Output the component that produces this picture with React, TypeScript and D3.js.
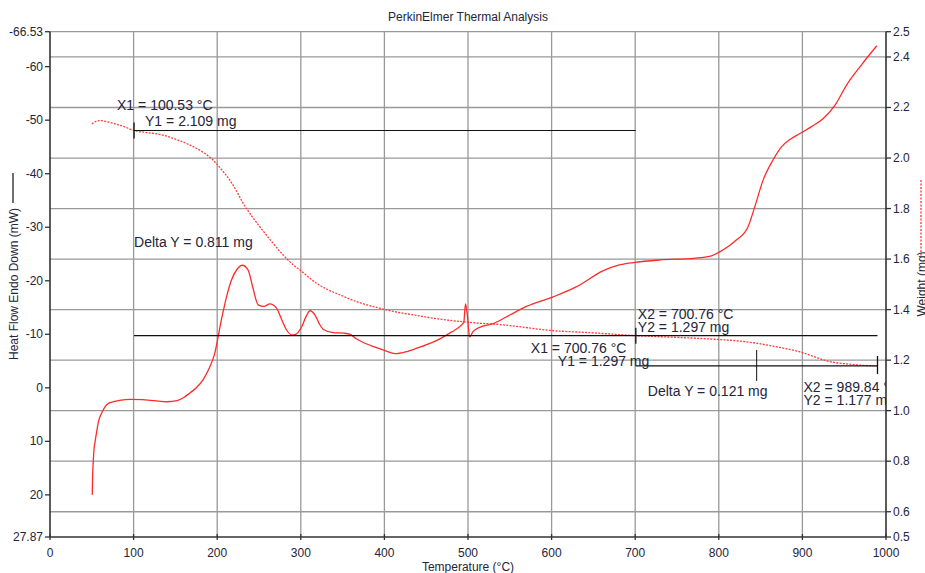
import React from "react";
import * as d3 from "d3";

// Heat flow (mW), solid trace on the left axis
const heatTemps = [
  50.5, 51, 51.5, 52.6, 54, 55.5, 58, 61.8, 66, 70, 76, 85, 96, 110, 125, 140, 152, 160, 167,
  175, 183, 190, 197, 205, 212, 217, 224, 230, 237, 243, 249, 256, 263, 271, 277, 283, 289,
  294, 301, 306, 311, 317, 322, 327, 339, 352, 359, 366, 373, 387, 400, 413, 425, 439, 453,
  467, 480, 492, 495, 497, 499, 502, 506, 514, 530, 550, 570, 602, 630, 662, 680, 698, 730,
  770, 790, 801, 812, 821, 835, 843, 853, 865, 875, 886, 897, 911, 925, 939, 953, 970, 989,
];
const heatFlow = [
  20, 16.5, 14.5, 11.6, 10, 8.5, 6.3, 4.7, 3.5, 2.9, 2.6, 2.3, 2.15, 2.2, 2.4, 2.6, 2.4, 1.8,
  1.0, 0, -1.5, -3.5, -6.4, -12.7, -17.5, -20.1, -22.2, -22.9, -22, -18.5, -15.5, -15.2,
  -15.7, -14.9, -12.8, -10.8, -9.9, -10, -11.4, -13.2, -14.4, -13.6, -12, -10.9, -10.3,
  -10.2, -10, -9.2, -8.6, -7.7, -7, -6.4, -6.7, -7.4, -8.2, -9.2, -10.4, -11.7, -12.3,
  -15.7, -13.9, -9.5, -10.5, -11.3, -12.0, -13.6, -15.2, -17, -18.9, -21.9, -22.9, -23.4,
  -23.9, -24.2, -24.6, -25.4, -26.5, -27.6, -30.1, -33.8, -38.8, -42.6, -45, -46.5, -47.5,
  -48.8, -50.3, -52.8, -56.6, -60.2, -63.9,
];

// Sample weight (mg), dotted trace on the right axis
const weightTemps = [
  50, 55, 60, 68, 76, 88, 100.5, 118, 135, 150, 167, 182, 195, 205, 215, 223, 231, 241, 251,
  265, 279, 290, 299, 319, 333, 347, 370, 395, 415, 435, 465, 494, 514, 534, 560, 594, 650,
  700.76, 750, 793, 820, 845, 870, 897, 913, 929, 940, 953, 970, 989.84,
];
const weight = [
  2.135, 2.145, 2.148, 2.144, 2.137, 2.125, 2.109, 2.1, 2.091, 2.075, 2.052, 2.025, 1.992,
  1.955, 1.913, 1.87, 1.821, 1.772, 1.728, 1.67, 1.616, 1.58, 1.557, 1.504, 1.478, 1.458,
  1.428, 1.405, 1.39, 1.379, 1.363, 1.352, 1.346, 1.342, 1.333, 1.319, 1.308, 1.297, 1.29,
  1.283, 1.277, 1.267, 1.252, 1.233, 1.215, 1.197, 1.19, 1.185, 1.18, 1.177,
];

// Axis ticks
const tempTicks = [0, 100, 200, 300, 400, 500, 600, 700, 800, 900, 1000];
const heatTicks = [-66.53, -60, -50, -40, -30, -20, -10, 0, 10, 20, 27.87];
const heatTickLabels = ["-66.53", "-60", "-50", "-40", "-30", "-20", "-10", "0", "10", "20", "27.87"];
const weightTicks = [0.5, 0.6, 0.8, 1.0, 1.2, 1.4, 1.6, 1.8, 2.0, 2.2, 2.4, 2.5];
const weightTickLabels = ["0.5", "0.6", "0.8", "1.0", "1.2", "1.4", "1.6", "1.8", "2.0", "2.2", "2.4", "2.5"];

// Cursor readings on the weight trace
const cursorTemps = [100.53, 700.76, 989.84];
const cursorWeights = [2.109, 1.297, 1.177];
const deltaLabels = ["Delta Y = 0.811 mg", "Delta Y = 0.121 mg"];

const W = 925;
const H = 573;
const FONT = "'Liberation Sans', Arial, sans-serif";
const TXT = "#24243a";

export default function App() {
  const x = d3.scaleLinear().domain([0, 1000]).range([50, 886]);
  const yL = d3.scaleLinear().domain([-66.53, 27.87]).range([31.7, 537]);
  const yR = d3.scaleLinear().domain([0.5, 2.5]).range([537, 31.7]);

  const heatLine = d3
    .line<number>()
    .x((_, i) => x(heatTemps[i]))
    .y((d) => yL(d))
    .curve(d3.curveMonotoneX);
  const weightLine = d3
    .line<number>()
    .x((_, i) => x(weightTemps[i]))
    .y((d) => yR(d))
    .curve(d3.curveMonotoneX);

  const [x0, x1] = x.range();
  const yTop = yR(2.5);
  const yBot = yR(0.5);

  const c = cursorTemps.map((t, i) => ({ px: x(t), py: yR(cursorWeights[i]) }));
  const fmtT = (t: number) => t.toFixed(2) + " °C";
  const fmtW = (w: number) => w.toFixed(3) + " mg";

  return (
    <svg
      width={W}
      height={H}
      style={{ position: "absolute", left: 0, top: 0, background: "#fff" }}
      fontFamily={FONT}
    >
      <defs>
        <clipPath id="plotClip">
          <rect x={x0} y={yTop} width={x1 - x0} height={yBot - yTop} />
        </clipPath>
      </defs>

      <text x={468} y={21} fontSize={12} textAnchor="middle" fill={TXT}>
        PerkinElmer Thermal Analysis
      </text>

      {/* grid */}
      {tempTicks.slice(1, -1).map((t) => (
        <line key={"vg" + t} x1={x(t)} x2={x(t)} y1={yTop} y2={yBot} stroke="#999" strokeWidth={1.3} />
      ))}
      {weightTicks.slice(1).map((w) => (
        <line key={"hg" + w} x1={x0} x2={x1} y1={yR(w)} y2={yR(w)} stroke="#999" strokeWidth={1.3} />
      ))}

      {/* axes */}
      <line x1={x0} x2={x0} y1={yTop} y2={yBot} stroke="#333" strokeWidth={1.6} />
      <line x1={x1} x2={x1} y1={yTop} y2={yBot} stroke="#333" strokeWidth={1.6} />
      <line x1={x0} x2={x1} y1={yBot} y2={yBot} stroke="#333" strokeWidth={1.6} />

      {heatTicks.map((v, i) => (
        <g key={"lt" + v}>
          <line x1={x0 - 5} x2={x0} y1={yL(v)} y2={yL(v)} stroke="#333" strokeWidth={1.3} />
          <text x={x0 - 7} y={yL(v) + 4} fontSize={12} textAnchor="end" fill={TXT}>
            {heatTickLabels[i]}
          </text>
        </g>
      ))}
      {weightTicks.map((w, i) => (
        <g key={"rt" + w}>
          <line x1={x1} x2={x1 + 5} y1={yR(w)} y2={yR(w)} stroke="#333" strokeWidth={1.3} />
          <text x={x1 + 7} y={yR(w) + 4} fontSize={12} fill={TXT}>
            {weightTickLabels[i]}
          </text>
        </g>
      ))}
      {tempTicks.map((t) => (
        <g key={"bt" + t}>
          <line x1={x(t)} x2={x(t)} y1={yBot - 3} y2={yBot + 3} stroke="#333" strokeWidth={1.3} />
          <text x={x(t)} y={557} fontSize={12} textAnchor="middle" fill={TXT}>
            {t}
          </text>
        </g>
      ))}

      <text x={468} y={571} fontSize={12} textAnchor="middle" fill={TXT}>
        Temperature (°C)
      </text>

      {/* left axis title with its line key */}
      <line x1={13} x2={13} y1={173} y2={203} stroke="#222" strokeWidth={1.3} />
      <text
        transform="translate(18,284) rotate(-90)"
        fontSize={12}
        textAnchor="middle"
        fill={TXT}
      >
        Heat Flow Endo Down (mW)
      </text>

      {/* right axis title with its dotted key */}
      <line x1={921} x2={921} y1={180} y2={256} stroke="#ff4040" strokeWidth={1.4} strokeDasharray="2,1.5" />
      <text
        transform="translate(926,284) rotate(-90)"
        fontSize={12}
        textAnchor="middle"
        fill={TXT}
      >
        Weight (mg)
      </text>

      <g clipPath="url(#plotClip)">
        {/* data traces */}
        <path d={weightLine(weight) || ""} fill="none" stroke="#ff3b3b" strokeWidth={1.3} strokeDasharray="2,1.3" />
        <path d={heatLine(heatFlow) || ""} fill="none" stroke="#ff2a2a" strokeWidth={1.3} />

        {/* cursors */}
        <line x1={c[0].px} x2={c[1].px} y1={c[0].py} y2={c[0].py} stroke="#111" strokeWidth={1.2} />
        <line x1={c[0].px} x2={c[2].px} y1={c[1].py} y2={c[1].py} stroke="#111" strokeWidth={1.2} />
        <line x1={c[1].px} x2={c[2].px} y1={c[2].py} y2={c[2].py} stroke="#111" strokeWidth={1.2} />
        <line x1={c[0].px} x2={c[0].px} y1={c[0].py - 8} y2={c[0].py + 8} stroke="#111" strokeWidth={1.3} />
        <line x1={c[1].px} x2={c[1].px} y1={c[1].py - 8} y2={c[1].py + 8} stroke="#111" strokeWidth={1.3} />
        <line x1={c[2].px} x2={c[2].px} y1={c[2].py - 10} y2={c[2].py + 8} stroke="#111" strokeWidth={1.3} />
        <line
          x1={(c[1].px + c[2].px) / 2}
          x2={(c[1].px + c[2].px) / 2}
          y1={c[2].py - 16}
          y2={c[2].py + 15}
          stroke="#111"
          strokeWidth={1}
        />

        <g fontSize={14} fill={TXT}>
          <text x={c[0].px - 17} y={c[0].py - 20}>X1 = {fmtT(cursorTemps[0])}</text>
          <text x={c[0].px + 11} y={c[0].py - 4}>Y1 = {fmtW(cursorWeights[0])}</text>
          <text x={c[0].px} y={247}>{deltaLabels[0]}</text>

          <text x={c[1].px + 2} y={c[1].py - 17}>X2 = {fmtT(cursorTemps[1])}</text>
          <text x={c[1].px + 2} y={c[1].py - 4}>Y2 = {fmtW(cursorWeights[1])}</text>
          <text x={c[1].px - 105} y={c[1].py + 17}>X1 = {fmtT(cursorTemps[1])}</text>
          <text x={c[1].px - 78} y={c[1].py + 30}>Y1 = {fmtW(cursorWeights[1])}</text>
          <text x={c[1].px + 12} y={c[2].py + 30}>{deltaLabels[1]}</text>

          <text x={c[2].px - 74} y={c[2].py + 26}>X2 = {fmtT(cursorTemps[2])}</text>
          <text x={c[2].px - 74} y={c[2].py + 39}>Y2 = {fmtW(cursorWeights[2])}</text>
        </g>
      </g>
    </svg>
  );
}
